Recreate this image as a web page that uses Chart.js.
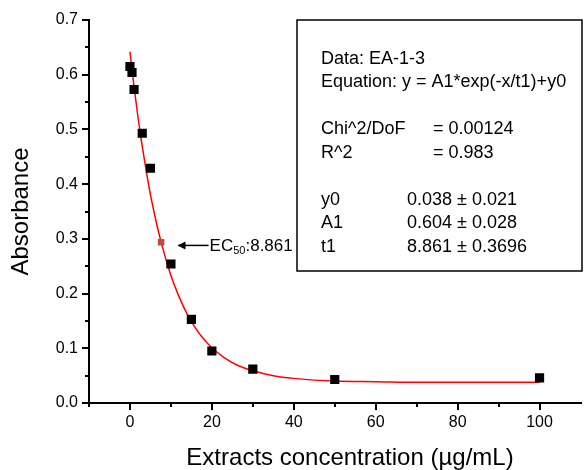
<!DOCTYPE html>
<html>
<head>
<meta charset="utf-8">
<script src="https://cdn.jsdelivr.net/npm/chart.js@4"></script>
<style>
  html, body { margin: 0; padding: 0; background: #fff; }
  #wrap { width: 587px; height: 470px; }
</style>
</head>
<body>
<div id="wrap"><canvas id="c" width="587" height="470"></canvas></div>
<script>
// measured points
const concX = [0, 0.5, 1, 3, 5, 10, 15, 20, 30, 50, 100];
const absorbance = [0.615, 0.604, 0.573, 0.493, 0.429, 0.254, 0.153, 0.095, 0.062, 0.043, 0.046];

// EC50 marker
const ec50X = [7.6];
const ec50Y = [0.294];

// fitted curve
const fitX = [0, 1, 2, 3, 4, 5, 6, 7, 8, 9, 10, 12, 14, 16, 18, 20, 23, 26, 30, 35, 40, 50, 60, 70, 80, 90, 100];
const fitY = [0.642, 0.578, 0.520, 0.469, 0.423, 0.381, 0.345, 0.312, 0.283, 0.257, 0.233, 0.194, 0.162, 0.137, 0.117, 0.101, 0.083, 0.070, 0.059, 0.050, 0.045, 0.040, 0.039, 0.038, 0.038, 0.038, 0.038];

const xTicks = [0, 20, 40, 60, 80, 100];
const xMinor = [-10, 10, 30, 50, 70, 90];
const yMinor = [0.05, 0.15, 0.25, 0.35, 0.45, 0.55, 0.65];

const xTitle = 'Extracts concentration (\u00b5g/mL)';
const boxLines = [
  ['Data: EA-1-3', ''],
  ['Equation: y = A1*exp(-x/t1)+y0', ''],
  ['', ''],
  ['Chi^2/DoF', '= 0.00124'],
  ['R^2', '= 0.983'],
  ['', ''],
  ['y0', '0.038 \u00b1 0.021'],
  ['A1', '0.604 \u00b1 0.028'],
  ['t1', '8.861 \u00b1 0.3696'],
];

const FONT = '"Liberation Sans", Arial, sans-serif';

const pts = (xs, ys) => xs.map((x, i) => ({ x: x, y: ys[i] }));

const extras = {
  id: 'extras',
  afterDatasetsDraw(chart) {
    const ctx = chart.ctx;
    const xs = chart.scales.x, ys = chart.scales.y;
    const area = chart.chartArea;
    ctx.save();

    // minor ticks
    ctx.strokeStyle = '#000';
    ctx.lineWidth = 2;
    ctx.beginPath();
    xMinor.forEach(v => {
      const px = Math.round(xs.getPixelForValue(v));
      ctx.moveTo(px, area.bottom);
      ctx.lineTo(px, area.bottom + 4);
    });
    yMinor.forEach(v => {
      const py = Math.round(ys.getPixelForValue(v));
      ctx.moveTo(area.left, py);
      ctx.lineTo(area.left - 4, py);
    });
    ctx.stroke();

    // x axis title (sits a little right of the plot centre in the original)
    ctx.fillStyle = '#000';
    ctx.font = '24px ' + FONT;
    ctx.textAlign = 'center';
    ctx.textBaseline = 'alphabetic';
    ctx.fillText(xTitle, 350, 465);

    // EC50 arrow + label
    const ay = ys.getPixelForValue(0.288);
    const tipX = xs.getPixelForValue(11.6);
    const tailX = xs.getPixelForValue(19.2);
    ctx.lineWidth = 1.5;
    ctx.beginPath();
    ctx.moveTo(tipX + 1, ay);
    ctx.lineTo(tailX, ay);
    ctx.stroke();
    ctx.beginPath();
    ctx.moveTo(tipX, ay);
    ctx.lineTo(tipX + 8, ay - 4);
    ctx.lineTo(tipX + 8, ay + 4);
    ctx.closePath();
    ctx.fill();

    ctx.textAlign = 'left';
    let tx = tailX + 1;
    const base = ay + 6;
    ctx.font = '17px ' + FONT;
    ctx.fillText('EC', tx, base);
    tx += ctx.measureText('EC').width;
    ctx.font = '11px ' + FONT;
    ctx.fillText('50', tx, base + 3);
    tx += ctx.measureText('50').width;
    ctx.font = '17px ' + FONT;
    ctx.fillText(':8.861', tx, base);

    // parameter box
    const bx = 297, by = 20, bw = 285, bh = 251;
    ctx.fillStyle = '#fff';
    ctx.fillRect(bx, by, bw, bh);
    ctx.lineWidth = 1.5;
    ctx.strokeRect(bx, by, bw, bh);
    ctx.fillStyle = '#000';
    ctx.font = '18px ' + FONT;
    ctx.textBaseline = 'middle';
    boxLines.forEach((ln, i) => {
      const y = 59 + i * 23.5;
      if (ln[0]) ctx.fillText(ln[0], 321, y);
      if (ln[1]) ctx.fillText(ln[1], i < 5 ? 433 : 407, y);
    });

    ctx.restore();
  }
};

new Chart(document.getElementById('c'), {
  type: 'scatter',
  data: {
    datasets: [
      {
        type: 'line',
        data: pts(fitX, fitY),
        borderColor: '#ff0000',
        borderWidth: 1.5,
        pointRadius: 0,
        cubicInterpolationMode: 'monotone',
        fill: false,
        order: 3,
      },
      {
        data: pts(concX, absorbance),
        pointStyle: 'rect',
        pointRadius: 6.5,
        backgroundColor: '#000',
        borderColor: '#000',
        borderWidth: 0,
        order: 1,
      },
      {
        data: pts(ec50X, ec50Y),
        pointStyle: 'rect',
        pointRadius: 4.6,
        backgroundColor: '#c24848',
        borderColor: '#c24848',
        borderWidth: 0,
        order: 2,
      },
    ],
  },
  options: {
    responsive: false,
    animation: false,
    layout: { padding: { top: 20, right: 0, left: 0, bottom: 0 } },
    plugins: { legend: { display: false }, tooltip: { enabled: false } },
    scales: {
      x: {
        type: 'linear',
        min: -10,
        max: 110,
        afterFit: s => { s.height = 67; },
        afterBuildTicks: s => { s.ticks = xTicks.map(v => ({ value: v })); },
        border: { display: true, color: '#000', width: 2 },
        grid: { drawOnChartArea: false, color: '#000', lineWidth: 2, tickLength: 7 },
        ticks: { color: '#000', font: { size: 16, family: FONT }, padding: 3, maxRotation: 0 },
        title: { display: false },
      },
      y: {
        type: 'linear',
        min: 0,
        max: 0.7,
        afterFit: s => { s.width = 89; },
        border: { display: true, color: '#000', width: 2 },
        grid: { drawOnChartArea: false, color: '#000', lineWidth: 2, tickLength: 7 },
        ticks: {
          stepSize: 0.1,
          color: '#000',
          font: { size: 16, family: FONT },
          padding: 4,
          callback: v => v.toFixed(1),
        },
        title: {
          display: true,
          text: 'Absorbance',
          color: '#000',
          font: { size: 24, family: FONT },
          padding: { top: 7, bottom: 4 },
        },
      },
    },
  },
  plugins: [extras],
});
</script>
</body>
</html>
